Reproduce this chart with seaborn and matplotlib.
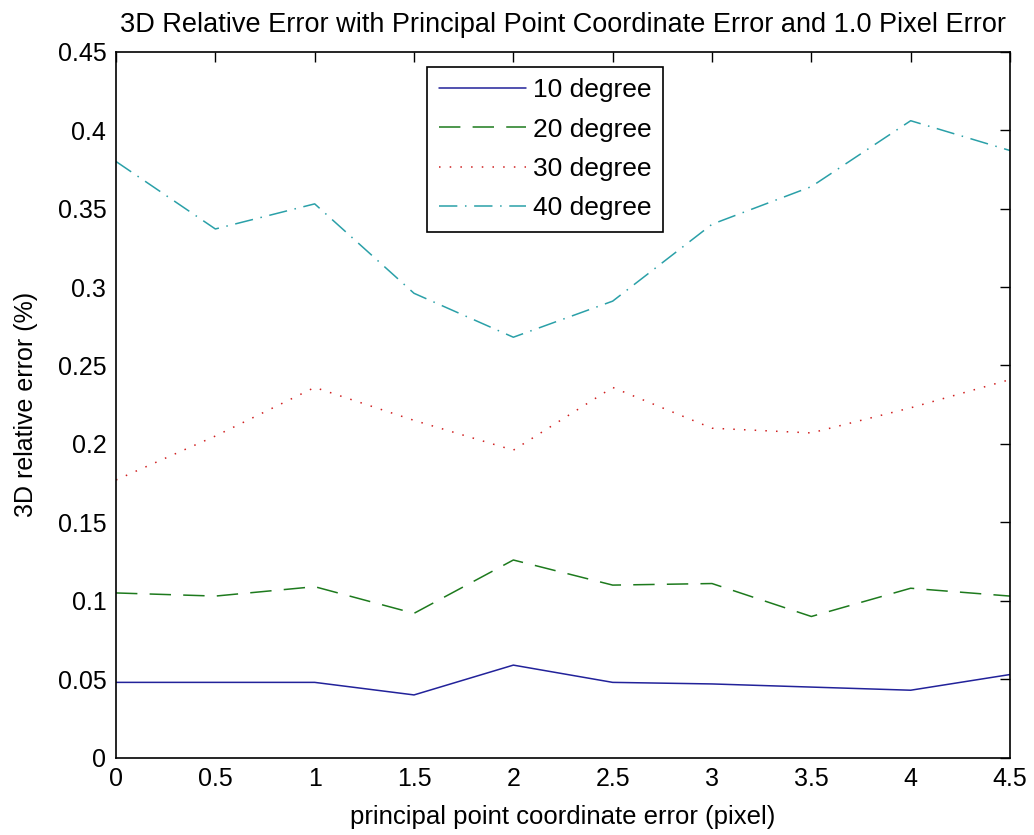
import numpy as np
import pandas as pd
import matplotlib
matplotlib.use("Agg")
import matplotlib.pyplot as plt
import seaborn as sns

sns.set_style('white')
plt.rcParams['font.family'] = ['Liberation Sans', 'DejaVu Sans']
plt.rcParams['text.color'] = 'black'
plt.rcParams['axes.labelcolor'] = 'black'

# data
pixel_err = [0, 0.5, 1, 1.5, 2, 2.5, 3, 3.5, 4, 4.5]
deg10 = [0.048, 0.048, 0.048, 0.040, 0.059, 0.048, 0.047, 0.045, 0.043, 0.053]
deg20 = [0.105, 0.103, 0.109, 0.092, 0.126, 0.110, 0.111, 0.090, 0.108, 0.103]
deg30 = [0.177, 0.205, 0.236, 0.215, 0.196, 0.236, 0.210, 0.207, 0.223, 0.241]
deg40 = [0.380, 0.337, 0.353, 0.296, 0.268, 0.291, 0.340, 0.364, 0.406, 0.387]
labels = ['10 degree', '20 degree', '30 degree', '40 degree']

df = pd.DataFrame({
    'x': pixel_err * 4,
    'y': deg10 + deg20 + deg30 + deg40,
    'series': np.repeat(labels, len(pixel_err)),
})

colors = {'10 degree': '#22229a', '20 degree': '#1d7a1d',
          '30 degree': '#d02020', '40 degree': '#2aa0a8'}
dashes = {'10 degree': '', '20 degree': (14, 8),
          '30 degree': (1, 6), '40 degree': (12, 5, 1, 5)}

fig = plt.figure(figsize=(10.34, 8.35), dpi=100)
ax = fig.add_axes([0.1122, 0.0926, 0.8646, 0.8455])

sns.lineplot(data=df, x='x', y='y', hue='series', style='series',
             palette=colors, dashes=dashes, linewidth=1.1, ax=ax)

ax.set_xlim(0, 4.5)
ax.set_ylim(0, 0.45)
ax.set_xticks(pixel_err)
ax.set_xticklabels(['0', '0.5', '1', '1.5', '2', '2.5', '3', '3.5', '4', '4.5'])
yt = [0, 0.05, 0.1, 0.15, 0.2, 0.25, 0.3, 0.35, 0.4, 0.45]
ax.set_yticks(yt)
ax.set_yticklabels(['0', '0.05', '0.1', '0.15', '0.2', '0.25', '0.3', '0.35', '0.4', '0.45'])
ax.tick_params(direction='in', length=7, width=1, top=True, right=True,
               labelsize=18, colors='black')
ax.tick_params(axis='x', pad=7)
ax.tick_params(axis='y', pad=7)
for s in ax.spines.values():
    s.set_linewidth(1.2)
    s.set_color('black')

ax.set_xlabel('principal point coordinate error (pixel)', fontsize=18.5, labelpad=10)
ax.set_ylabel('3D relative error (%)', fontsize=18, labelpad=14)
ax.set_title('3D Relative Error with Principal Point Coordinate Error and 1.0 Pixel Error',
             fontsize=19.5, pad=14)

h, l = ax.get_legend_handles_labels()
leg = ax.legend(h, l, loc='upper left', bbox_to_anchor=(0.348, 0.979),
                borderaxespad=0, fontsize=19, handlelength=3.3,
                handletextpad=0.25, labelspacing=0.58, borderpad=0.45,
                fancybox=False, edgecolor='black', framealpha=1)
leg.get_frame().set_linewidth(1.2)

fig.savefig('out.png', dpi=100)
